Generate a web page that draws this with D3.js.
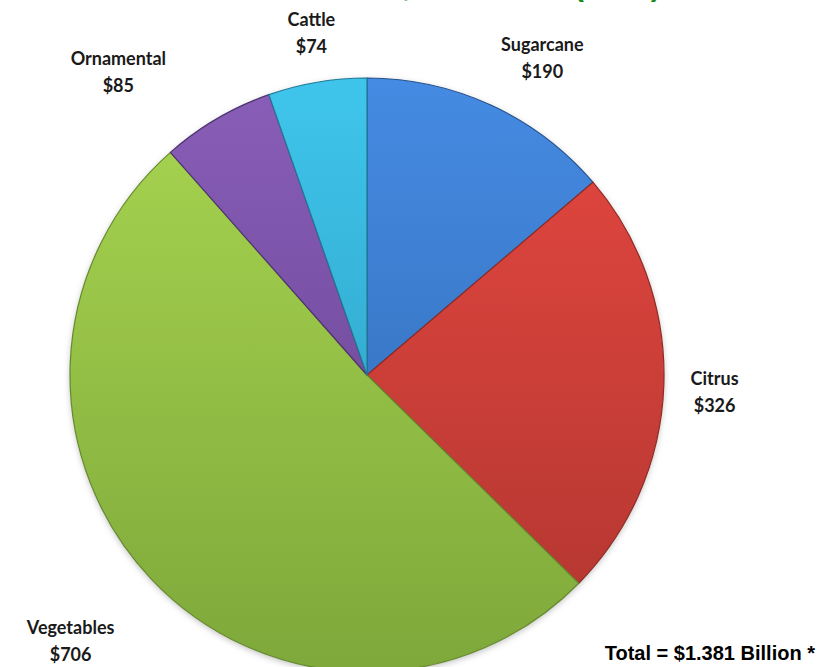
<!DOCTYPE html>
<html><head><meta charset="utf-8">
<script src="https://cdn.jsdelivr.net/npm/d3@7"></script>
<style>body{margin:0;background:#fff}svg{display:block}</style>
</head><body>
<script>
const categories = ["Sugarcane", "Citrus", "Vegetables", "Ornamental", "Cattle"];
const values = [190, 326, 706, 85, 74];
const valueLabels = ["$190", "$326", "$706", "$85", "$74"];
const totalLabel = "Total = $1.381 Billion *";
const titleText = "Farm Sales, in Millions (2007)";

const colors = ["#3f7fd0", "#d2423b", "#9bc44a", "#7d56a8", "#3ab4d8"];
const darkColors = ["#2f66ad", "#b0352f", "#7ea83a", "#623f8c", "#2997b8"];
// label placement (polar, relative to slice middle)
const labelRadius = [362, 348, 398, 392, 346];
const labelAngleOffset = [4.2, 0.8, 1.6, -9.0, 0.4];

const W = 819, H = 667, cx = 367, cy = 375, R = 297;
const svg = d3.select("body").append("svg").attr("width", W).attr("height", H);
const defs = svg.append("defs");
colors.forEach((c, i) => {
  const g = defs.append("linearGradient").attr("id", "g" + i)
    .attr("gradientUnits", "userSpaceOnUse")
    .attr("x1", 0).attr("y1", -R).attr("x2", 0).attr("y2", R);
  g.append("stop").attr("offset", "0%").attr("stop-color", d3.color(c).brighter(0.25));
  g.append("stop").attr("offset", "100%").attr("stop-color", darkColors[i]);
});
const f = defs.append("filter").attr("id", "sh").attr("x", "-10%").attr("y", "-10%").attr("width", "120%").attr("height", "120%");
f.append("feDropShadow").attr("dx", 0).attr("dy", 2).attr("stdDeviation", 3).attr("flood-color", "#000").attr("flood-opacity", 0.25);

// title (mostly cut off at the top edge, as in the reference)
const title = svg.append("text").attr("x", 0).attr("y", -4)
  .attr("font-family", "Arial, 'Liberation Sans', sans-serif").attr("font-weight", "bold")
  .attr("font-size", 30).attr("fill", "#1a8a1a").text(titleText);
const pIdx = titleText.indexOf("(");
const px = title.node().getStartPositionOfChar(pIdx).x;
title.attr("x", 574 - px);

const pie = d3.pie().value(d => d).sort(null);
const arcs = pie(values);
const arc = d3.arc().innerRadius(0).outerRadius(R);
const g = svg.append("g").attr("transform", `translate(${cx},${cy})`);
g.append("circle").attr("r", R).attr("fill", "#fff").attr("filter", "url(#sh)");
g.selectAll("path").data(arcs).join("path")
  .attr("d", arc)
  .attr("fill", (d, i) => `url(#g${i})`)
  .attr("stroke", (d, i) => d3.color(darkColors[i]).darker(0.6))
  .attr("stroke-width", 1.2)
  .attr("stroke-linejoin", "round");

const lab = svg.append("g").attr("font-family", "Lato, 'Open Sans', sans-serif")
  .attr("font-weight", "bold").attr("font-size", 18).attr("fill", "#1a1a1a")
  .attr("text-anchor", "middle");
arcs.forEach((d, i) => {
  const a = (d.startAngle + d.endAngle) / 2 + labelAngleOffset[i] * Math.PI / 180;
  const x = cx + labelRadius[i] * Math.sin(a);
  const y = cy - labelRadius[i] * Math.cos(a);
  const t = lab.append("text").attr("x", x).attr("y", y - 7);
  t.append("tspan").attr("x", x).attr("dy", 0).text(categories[i]);
  t.append("tspan").attr("x", x).attr("dy", 27).text(valueLabels[i]);
});

svg.append("text").attr("x", 815).attr("y", 660).attr("text-anchor", "end")
  .attr("font-family", "Arial, 'Liberation Sans', sans-serif").attr("font-weight", "bold")
  .attr("font-size", 20).attr("fill", "#000").text(totalLabel);
</script>
</body></html>
